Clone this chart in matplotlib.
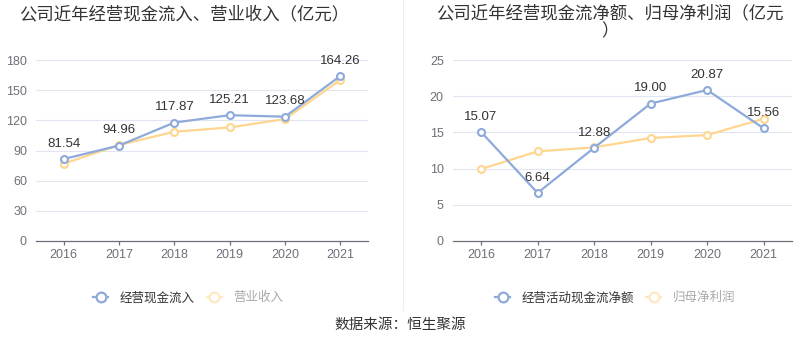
import matplotlib
matplotlib.use("Agg")
import matplotlib.pyplot as plt
from matplotlib.lines import Line2D

plt.rcParams['font.family'] = ['Liberation Sans', 'Noto Sans CJK SC', 'DejaVu Sans']

years = ['2016', '2017', '2018', '2019', '2020', '2021']

cash_inflow = [81.54, 94.96, 117.87, 125.21, 123.68, 164.26]
revenue = [76.9, 95.5, 108.7, 113.0, 121.3, 160.4]

net_cash = [15.07, 6.64, 12.88, 19.00, 20.87, 15.56]
net_profit = [9.94, 12.38, 12.94, 14.23, 14.64, 16.9]

left_title = '公司近年经营现金流入、营业收入（亿元）'
right_title = '公司近年经营现金流净额、归母净利润（亿元\n）'
left_legend = ['经营现金流入', '营业收入']
right_legend = ['经营活动现金流净额', '归母净利润']
source = '数据来源：恒生聚源'

BLUE = '#8eaadb'
YELLOW = '#ffd68f'
GRID = '#e0e6f1'
AXIS = '#6e7079'

fig = plt.figure(figsize=(8, 3.58), dpi=100)

def setup(ax, ymax, step, s1, s2):
    x = range(len(years))
    ax.plot(x, s2, color=YELLOW, lw=1.6, marker='o', ms=5, mfc='white', mec=YELLOW, mew=1.5, zorder=3)
    ax.plot(x, s1, color=BLUE, lw=1.6, marker='o', ms=5, mfc='white', mec=BLUE, mew=1.5, zorder=4)
    for i, v in enumerate(s1):
        ax.annotate(f'{v:.2f}', (i, v), xytext=(0, 11), textcoords='offset points',
                    ha='center', va='center', fontsize=9.5, color='#333333', zorder=5)
    ax.set_xlim(-0.5, len(years) - 0.5)
    ax.set_ylim(0, ymax)
    ax.set_yticks(list(range(0, ymax + 1, step)))
    ax.set_xticks(list(x))
    ax.set_xticklabels(years)
    ax.grid(axis='y', color=GRID, lw=0.8)
    ax.set_axisbelow(True)
    for s in ['top', 'right', 'left']:
        ax.spines[s].set_visible(False)
    ax.spines['bottom'].set_color(AXIS)
    ax.spines['bottom'].set_linewidth(0.9)
    ax.tick_params(axis='y', length=0, pad=6.5, labelsize=9, labelcolor=AXIS)
    ax.tick_params(axis='x', length=3, width=0.9, color=AXIS, pad=3, labelsize=9, labelcolor=AXIS)

ax1 = fig.add_axes([0.045, 0.327, 0.415, 0.505])
setup(ax1, 180, 30, cash_inflow, revenue)
ax2 = fig.add_axes([0.566, 0.327, 0.424, 0.505])
setup(ax2, 25, 5, net_cash, net_profit)

fig.text(184 / 800, 1 - 14 / 358, left_title, ha='center', va='center', fontsize=12.5, color='#333333')
fig.text(610 / 800, 1 - 22 / 358, right_title, ha='center', va='center', fontsize=12.5, color='#333333',
         linespacing=1.15)

fig.add_artist(Line2D([403 / 800, 403 / 800], [1, 1 - 310 / 358], color='#eeeeee', lw=0.8))

def legend(ax, labels, cx):
    h1 = Line2D([], [], color=BLUE, lw=1.6, marker='o', ms=7, mfc='white', mec=BLUE, mew=1.6)
    h2 = Line2D([], [], color='#ffe9c4', lw=1.6, marker='o', ms=7, mfc='white', mec='#ffe9c4', mew=1.6)
    lg = ax.legend([h1, h2], labels, loc='center', bbox_to_anchor=(cx / 800, 1 - 298 / 358),
                   bbox_transform=fig.transFigure, ncol=2, frameon=False, fontsize=9,
                   handlelength=1.2, handletextpad=0.9, columnspacing=1.0)
    texts = lg.get_texts()
    texts[0].set_color('#333333')
    texts[1].set_color('#aaaaaa')

legend(ax1, left_legend, 188)
legend(ax2, right_legend, 615)

fig.text(400 / 800, 1 - 325 / 358, source, ha='center', va='center', fontsize=10.5, color='#333333')

fig.savefig('out.png', dpi=100)
